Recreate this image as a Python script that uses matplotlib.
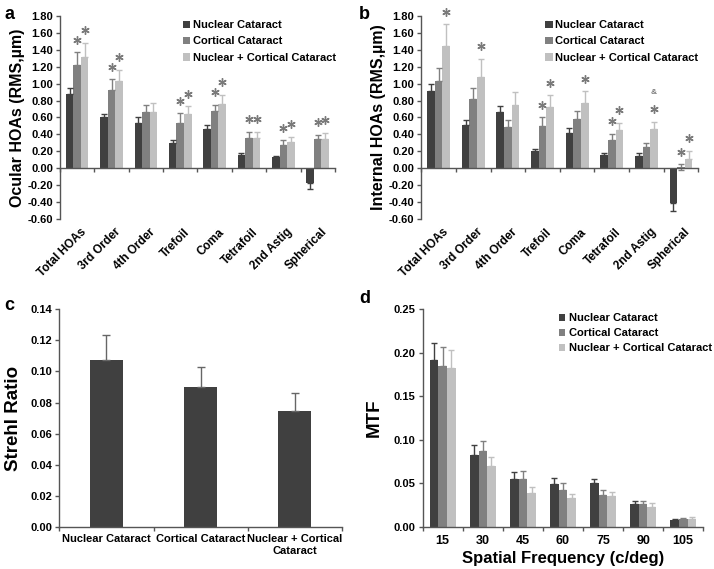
import matplotlib
matplotlib.use("Agg")
import matplotlib.pyplot as plt
import matplotlib.transforms as mtransforms
import numpy as np

plt.rcParams['font.family'] = ['Liberation Sans', 'DejaVu Sans']
plt.rcParams['font.weight'] = 'bold'
plt.rcParams['axes.labelweight'] = 'bold'

series = ["Nuclear Cataract", "Cortical Cataract", "Nuclear + Cortical Cataract"]
colors = ["#404040", "#808080", "#c0c0c0"]

hoa_cats = ["Total HOAs", "3rd Order", "4th Order", "Trefoil", "Coma",
            "Tetrafoil", "2nd Astig", "Spherical"]

# Panel a: ocular HOAs
ocular_vals = [
    [0.88, 0.61, 0.54, 0.30, 0.465, 0.16, 0.13, -0.17],
    [1.22, 0.92, 0.67, 0.54, 0.68, 0.36, 0.27, 0.35],
    [1.32, 1.035, 0.67, 0.64, 0.755, 0.36, 0.31, 0.35],
]
ocular_err = [
    [0.07, 0.035, 0.06, 0.04, 0.05, 0.02, 0.01, 0.08],
    [0.15, 0.13, 0.08, 0.11, 0.07, 0.07, 0.06, 0.045],
    [0.16, 0.125, 0.10, 0.09, 0.115, 0.07, 0.06, 0.07],
]
ocular_sig = [
    [0, 0, 0, 0, 0, 0, 0, 0],
    [1, 1, 0, 1, 1, 1, 1, 1],
    [1, 1, 0, 1, 1, 1, 1, 1],
]

# Panel b: internal HOAs
internal_vals = [
    [0.91, 0.51, 0.67, 0.20, 0.42, 0.16, 0.15, -0.41],
    [1.03, 0.82, 0.485, 0.50, 0.58, 0.34, 0.25, 0.01],
    [1.44, 1.08, 0.75, 0.72, 0.775, 0.45, 0.46, 0.11],
]
internal_err = [
    [0.09, 0.06, 0.065, 0.03, 0.06, 0.02, 0.03, 0.09],
    [0.16, 0.125, 0.085, 0.10, 0.10, 0.07, 0.05, 0.035],
    [0.26, 0.21, 0.15, 0.14, 0.135, 0.09, 0.085, 0.095],
]
internal_sig = [
    [0, 0, 0, 0, 0, 0, 0, 0],
    [0, 0, 0, 1, 0, 1, 0, 1],
    [1, 1, 0, 1, 1, 1, 1, 1],
]
internal_amp = [
    [0, 0, 0, 0, 0, 0, 0, 0],
    [0, 0, 0, 0, 0, 0, 0, 0],
    [0, 0, 0, 0, 0, 0, 1, 0],
]

# Panel c: Strehl ratio
strehl_cats = ["Nuclear Cataract", "Cortical Cataract", "Nuclear + Cortical\nCataract"]
strehl_vals = [0.1075, 0.0898, 0.0749]
strehl_err = [0.0160, 0.0132, 0.0115]

# Panel d: MTF
freq_labels = ["15", "30", "45", "60", "75", "90", "105"]
mtf_vals = [
    [0.191, 0.0827, 0.0553, 0.0488, 0.0503, 0.0259, 0.0084],
    [0.1845, 0.0873, 0.0553, 0.0427, 0.0370, 0.0259, 0.0088],
    [0.182, 0.0694, 0.0393, 0.0335, 0.0358, 0.0229, 0.0091],
]
mtf_err = [
    [0.0205, 0.0111, 0.0076, 0.0072, 0.0047, 0.0041, 0.0011],
    [0.0221, 0.0110, 0.0083, 0.0073, 0.0057, 0.0041, 0.0010],
    [0.0215, 0.0110, 0.0061, 0.0038, 0.0042, 0.0049, 0.0027],
]

fig = plt.figure(figsize=(7.14, 5.69), dpi=100)

TICK_FS = 8
LAB_FS = 11.5
STAR_COLOR = "#7a7a7a"


def style_axes(ax):
    ax.spines['top'].set_visible(False)
    ax.spines['right'].set_visible(False)
    for s in ('left', 'bottom'):
        ax.spines[s].set_color('#555555')
        ax.spines[s].set_linewidth(1.0)
    ax.tick_params(axis='y', direction='out', length=3, width=1,
                   color='#555555', labelsize=TICK_FS, pad=2)
    for lab in ax.get_yticklabels():
        lab.set_fontweight('bold')


def grouped_bars(ax, vals, errs, width):
    n = len(vals)
    x = np.arange(len(vals[0]))
    tops = []
    for k in range(n):
        v = np.array(vals[k])
        e = np.array(errs[k])
        upper = np.where(v >= 0, e, 0.0)
        lower = np.where((v < 0) | (np.abs(v) < e), e, 0.0)
        pos = x + (k - (n - 1) / 2) * width
        ax.bar(pos, v, width=width, color=colors[k], label=series[k],
               yerr=[lower, upper],
               error_kw=dict(ecolor=colors[k], elinewidth=1.0, capsize=2.5,
                             capthick=1.0), zorder=2)
        tops.append((pos, v + upper))
    return tops


def hoa_panel(ax, vals, errs, sig, ylabel, amp=None):
    tops = grouped_bars(ax, vals, errs, 0.22)
    ax.set_xlim(-0.5, len(hoa_cats) - 0.5)
    ax.set_ylim(-0.6, 1.8)
    ax.set_yticks(np.arange(-0.6, 1.81, 0.2))
    ax.yaxis.set_major_formatter(matplotlib.ticker.FormatStrFormatter('%.2f'))
    ax.spines['bottom'].set_position(('data', 0))
    ax.set_xticks(np.arange(-0.5, len(hoa_cats), 1.0))
    ax.set_xticklabels([])
    ax.tick_params(axis='x', direction='out', length=3, width=1, color='#555555')
    style_axes(ax)
    trans = mtransforms.blended_transform_factory(ax.transData, ax.transAxes)
    for i, c in enumerate(hoa_cats):
        ax.text(i + 0.22, -0.055, c, transform=trans, rotation=45,
                rotation_mode='anchor', ha='right', va='center',
                fontsize=8.5, fontweight='bold')
    ax.set_ylabel(ylabel, fontsize=LAB_FS, fontweight='bold', labelpad=2)
    for k in range(len(vals)):
        pos, top = tops[k]
        for i in range(len(hoa_cats)):
            if sig[k][i]:
                ys = top[i] + 0.15
                ax.plot(pos[i], ys, marker=(6, 2, 0), ms=6, mew=1.0,
                        color=STAR_COLOR, clip_on=False, zorder=3)
                if amp is not None and amp[k][i]:
                    ax.text(pos[i], ys + 0.2, "&", ha='center', va='center',
                            fontsize=6, color=STAR_COLOR)
    leg = ax.legend(loc='upper left', bbox_to_anchor=(0.43, 1.0), frameon=False,
                    fontsize=8, handlelength=0.7, handleheight=0.7,
                    handletextpad=0.2, labelspacing=0.55, borderaxespad=0.0)
    for t in leg.get_texts():
        t.set_fontweight('bold')
    return ax


# Panel a
ax_a = fig.add_axes([0.084, 0.615, 0.385, 0.357])
hoa_panel(ax_a, ocular_vals, ocular_err, ocular_sig, "Ocular HOAs (RMS,\u00b5m)")

# Panel b
ax_b = fig.add_axes([0.590, 0.615, 0.388, 0.357])
hoa_panel(ax_b, internal_vals, internal_err, internal_sig,
          "Internal HOAs (RMS,\u00b5m)", amp=internal_amp)

# Panel c
ax_c = fig.add_axes([0.083, 0.073, 0.396, 0.384])
xc = np.arange(len(strehl_cats))
ax_c.bar(xc, strehl_vals, width=0.35, color=colors[0],
         yerr=[np.zeros(len(strehl_vals)), strehl_err],
         error_kw=dict(ecolor='#666666', elinewidth=1.0, capsize=3, capthick=1.0))
ax_c.set_xlim(-0.5, len(strehl_cats) - 0.5)
ax_c.set_ylim(0, 0.14)
ax_c.set_yticks(np.arange(0, 0.141, 0.02))
ax_c.yaxis.set_major_formatter(matplotlib.ticker.FormatStrFormatter('%.2f'))
ax_c.set_xticks(xc)
ax_c.set_xticklabels(strehl_cats, fontsize=TICK_FS, fontweight='bold')
ax_c.set_xticks(np.arange(-0.5, len(strehl_cats), 1.0), minor=True)
ax_c.tick_params(axis='x', which='major', length=0, pad=5)
ax_c.tick_params(axis='x', which='minor', direction='out', length=3, width=1,
                 color='#555555')
style_axes(ax_c)
ax_c.set_ylabel("Strehl Ratio", fontsize=13.5, fontweight='bold', labelpad=6)

# Panel d
ax_d = fig.add_axes([0.592, 0.074, 0.393, 0.383])
grouped_bars(ax_d, mtf_vals, mtf_err, 0.215)
ax_d.set_xlim(-0.5, len(freq_labels) - 0.5)
ax_d.set_ylim(0, 0.25)
ax_d.set_yticks(np.arange(0, 0.251, 0.05))
ax_d.yaxis.set_major_formatter(matplotlib.ticker.FormatStrFormatter('%.2f'))
xd = np.arange(len(freq_labels))
ax_d.set_xticks(xd)
ax_d.set_xticklabels(freq_labels, fontsize=9, fontweight='bold')
ax_d.set_xticks(np.arange(-0.5, len(freq_labels), 1.0), minor=True)
ax_d.tick_params(axis='x', which='major', length=0, pad=6)
ax_d.tick_params(axis='x', which='minor', direction='out', length=3, width=1,
                 color='#555555')
style_axes(ax_d)
ax_d.set_ylabel("MTF", fontsize=13.5, fontweight='bold', labelpad=8)
ax_d.set_xlabel("Spatial Frequency (c/deg)", fontsize=12, fontweight='bold',
                labelpad=3)
leg = ax_d.legend(loc='upper left', bbox_to_anchor=(0.47, 1.0), frameon=False,
                  fontsize=8, handlelength=0.5, handleheight=0.5,
                  handletextpad=0.4, labelspacing=0.45, borderaxespad=0.0)
for t in leg.get_texts():
    t.set_fontweight('bold')

# Panel letters
for txt, (x, y) in zip("abcd", [(0.006, 0.99), (0.503, 0.99),
                                 (0.006, 0.478), (0.503, 0.49)]):
    fig.text(x, y, txt, fontsize=13, fontweight='bold', va='top', ha='left')

fig.savefig("out.png", dpi=100)
